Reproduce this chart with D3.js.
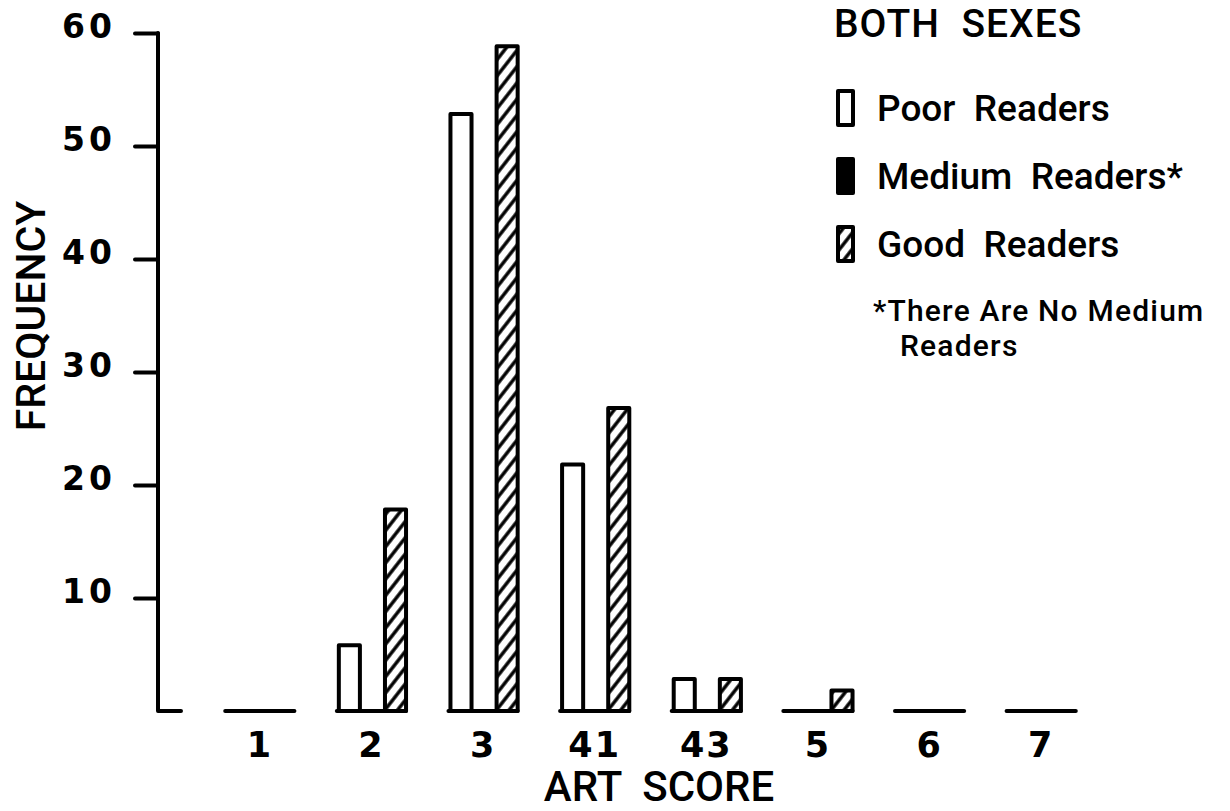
<!DOCTYPE html>
<html>
<head>
<meta charset="utf-8">
<script src="https://cdn.jsdelivr.net/npm/d3@7"></script>
<style>
  html, body { margin: 0; padding: 0; background: #fff; }
  svg { display: block; }
  text { fill: #000; }
</style>
</head>
<body>
<svg id="chart" width="1230" height="811"></svg>
<script>
// ---- data ----
const categories = ["1", "2", "3", "41", "43", "5", "6", "7"];
const seriesKeys = ["poor", "medium", "good"];
const seriesLabels = ["Poor Readers", "Medium Readers*", "Good Readers"];
const poorReaders   = [0, 6, 53, 22, 3, 0, 0, 0];
const mediumReaders = [0, 0, 0, 0, 0, 0, 0, 0];
const goodReaders   = [0, 18, 59, 27, 3, 2, 0, 0];
const yTickValues = [10, 20, 30, 40, 50, 60];
const titleText = "BOTH SEXES";
const footnoteLines = ["*There Are No Medium", "Readers"];
const xAxisTitle = "ART  SCORE";
const yAxisTitle = "FREQUENCY";

const seriesValues = { poor: poorReaders, medium: mediumReaders, good: goodReaders };
const rows = categories.map((c, i) => ({
  cat: c,
  values: seriesKeys.map(k => ({ key: k, value: seriesValues[k][i] }))
}));

// ---- layout ----
const svg = d3.select("#chart");
const textFont = "Roboto, 'DejaVu Sans', sans-serif";
const numFont = "'DejaVu Sans', Roboto, sans-serif";
const SW = 4;

const defs = svg.append("defs");
const hatch = defs.append("pattern")
  .attr("id", "hatch")
  .attr("patternUnits", "userSpaceOnUse")
  .attr("width", 10).attr("height", 10)
  .attr("patternTransform", "rotate(38)");
hatch.append("rect").attr("width", 10).attr("height", 10).attr("fill", "#fff");
hatch.append("line").attr("x1", 5).attr("y1", -2).attr("x2", 5).attr("y2", 12)
  .attr("stroke", "#000").attr("stroke-width", 3.4);

const fills = { poor: "#fff", medium: "#000", good: "url(#hatch)" };

const x = d3.scaleBand().domain(categories).range([204, 1097])
  .paddingInner(0.38).paddingOuter(0.19);
const xs = d3.scaleBand().domain(seriesKeys).range([0, x.bandwidth()]);
const y = d3.scaleLinear().domain([0, 60]).range([711, 33]);
const axisX = 158;

// ---- y axis ----
const yAxis = d3.axisLeft(y).tickValues(yTickValues).tickSize(23).tickPadding(0);
const gy = svg.append("g").attr("transform", `translate(${axisX},0)`).call(yAxis);
gy.select(".domain").remove();
gy.selectAll(".tick line").attr("stroke", "#000").attr("stroke-width", SW)
  .attr("stroke-linecap", "round");
gy.selectAll(".tick text")
  .attr("x", -42).attr("y", 4).attr("dy", 0)
  .attr("font-family", numFont).attr("font-size", 33).attr("font-weight", "bold")
  .attr("letter-spacing", 4)
  .attr("fill", "#000");

svg.append("path")
  .attr("d", d3.line()([[axisX, y(60)], [axisX, y(0)], [axisX + 23, y(0)]]))
  .attr("fill", "none").attr("stroke", "#000").attr("stroke-width", SW)
  .attr("stroke-linejoin", "round").attr("stroke-linecap", "round");

// ---- bars ----
const groups = svg.append("g").selectAll("g").data(rows).join("g")
  .attr("transform", d => `translate(${x(d.cat)},0)`);

groups.selectAll("rect").data(d => d.values.filter(v => v.value > 0)).join("rect")
  .attr("x", d => xs(d.key) + SW / 2)
  .attr("width", xs.bandwidth() - SW / 2)
  .attr("y", d => y(d.value) + SW / 2)
  .attr("height", d => y(0) - y(d.value) - SW / 2)
  .attr("fill", d => fills[d.key])
  .attr("stroke", "#000").attr("stroke-width", SW)
  .attr("stroke-linejoin", "round");

groups.append("line")
  .attr("x1", 0).attr("x2", x.bandwidth())
  .attr("y1", y(0)).attr("y2", y(0))
  .attr("stroke", "#000").attr("stroke-width", SW).attr("stroke-linecap", "round");

// ---- x axis labels ----
const xAxis = d3.axisBottom(x).tickSize(0).tickPadding(0);
const gx = svg.append("g").attr("transform", `translate(0,${y(0)})`).call(xAxis);
gx.select(".domain").remove();
gx.selectAll(".tick text")
  .attr("y", 46).attr("dy", 0)
  .attr("font-family", numFont).attr("font-size", 35).attr("font-weight", "bold")
  .attr("letter-spacing", 2)
  .attr("fill", "#000");

// ---- axis titles ----
svg.append("text")
  .attr("x", 659).attr("y", 801)
  .attr("text-anchor", "middle")
  .attr("font-family", textFont).attr("font-size", 42).attr("font-weight", 500)
  .style("white-space", "pre")
  .text(xAxisTitle);

svg.append("text")
  .attr("transform", "translate(45,316) rotate(-90)")
  .attr("text-anchor", "middle")
  .attr("font-family", textFont).attr("font-size", 41).attr("font-weight", 500)
  .text(yAxisTitle);

// ---- legend ----
const legend = svg.append("g");
legend.append("text")
  .attr("x", 834).attr("y", 37)
  .attr("font-family", textFont).attr("font-size", 39).attr("font-weight", 500)
  .attr("letter-spacing", 1)
  .style("white-space", "pre")
  .text(titleText.replace(" ", "  "));

const legendRow = d3.scaleOrdinal().domain(seriesKeys).range([121, 189, 257]);
const items = legend.selectAll("g.item").data(seriesKeys).join("g").attr("class", "item");
items.append("rect")
  .attr("x", 838).attr("width", 15)
  .attr("y", k => legendRow(k) - 30).attr("height", 34)
  .attr("fill", k => fills[k])
  .attr("stroke", "#000").attr("stroke-width", SW).attr("stroke-linejoin", "round");
items.append("text")
  .attr("x", 877).attr("y", k => legendRow(k))
  .attr("font-family", textFont).attr("font-size", 37).attr("font-weight", 500)
  .style("white-space", "pre")
  .text((k, i) => seriesLabels[i].replace(" ", "  "));

// footnote, two lines
legend.selectAll("text.foot").data(footnoteLines).join("text")
  .attr("class", "foot")
  .attr("x", (d, i) => i === 0 ? 873 : 900)
  .attr("y", (d, i) => 321 + i * 35)
  .attr("font-family", textFont).attr("font-size", 30).attr("font-weight", 500)
  .attr("letter-spacing", 1.2)
  .text(d => d);
</script>
</body>
</html>
